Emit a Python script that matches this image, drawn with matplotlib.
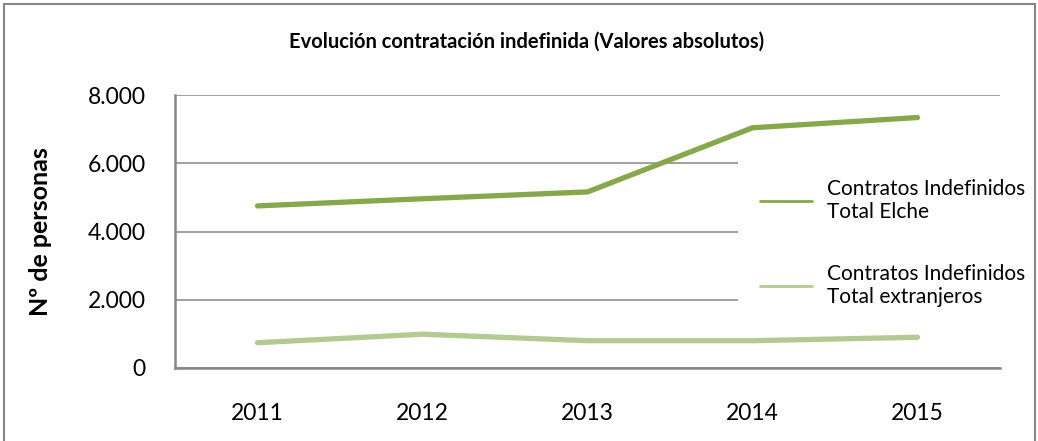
import matplotlib
matplotlib.use("Agg")
import matplotlib.pyplot as plt
from matplotlib.patches import Rectangle
from matplotlib.ticker import FuncFormatter, FixedLocator

plt.rcParams['font.family'] = ['Lato', 'DejaVu Sans']

## chart data
years = ['2011', '2012', '2013', '2014', '2015']
total_elche = [4750, 4960, 5160, 7040, 7340]
total_extranjeros = [740, 990, 800, 800, 900]
series_labels = ['Contratos Indefinidos\nTotal Elche', 'Contratos Indefinidos\nTotal extranjeros']
y_ticks = [0, 2000, 4000, 6000, 8000]

dark_green = '#86a74a'
light_green = '#b3ca92'
grey = '#868686'

fig = plt.figure(figsize=(10.38, 4.41), dpi=100)
ax = fig.add_axes([175 / 1038, 1 - 368 / 441, 825 / 1038, 273 / 441])

x = range(len(years))
ax.plot(x, total_elche, color=dark_green, linewidth=3.8, solid_capstyle='round',
        solid_joinstyle='round', label=series_labels[0], zorder=3)
ax.plot(x, total_extranjeros, color=light_green, linewidth=3.8, solid_capstyle='round',
        solid_joinstyle='round', label=series_labels[1], zorder=3)

ax.set_xlim(-0.5, len(years) - 0.5)
ax.set_ylim(0, 8000)
ax.set_xticks(list(x))
ax.set_xticklabels(years)
ax.yaxis.set_major_locator(FixedLocator(y_ticks))
ax.yaxis.set_major_formatter(FuncFormatter(lambda v, _: f"{int(v):,}".replace(',', '.')))
ax.tick_params(axis='both', length=0, labelsize=16.5, colors='black')
ax.tick_params(axis='y', pad=21)
ax.tick_params(axis='x', pad=25)

ax.grid(axis='y', color=grey, linewidth=1.1)
ax.set_axisbelow(True)
for side in ['top', 'right']:
    ax.spines[side].set_visible(False)
for side in ['left', 'bottom']:
    ax.spines[side].set_color(grey)
    ax.spines[side].set_linewidth(1.8)

ax.set_ylabel('Nº de personas', fontsize=18, fontweight='bold')
ax.yaxis.set_label_coords(-0.149, 0.5)

# white legend area that hides the gridlines, like the original
to_ax = lambda px, py: ((px - 175) / 825, (368 - py) / 273)
x0, y0 = to_ax(738, 330)
x1, y1 = to_ax(1036, 142)
ax.add_patch(Rectangle((x0, y0), x1 - x0, y1 - y0, transform=ax.transAxes,
                       facecolor='white', edgecolor='none', zorder=2, clip_on=False))

leg = ax.legend(loc='upper left', bbox_to_anchor=to_ax(760, 179), borderaxespad=0,
                borderpad=0, fontsize=15, frameon=False,
                handlelength=2.5, handletextpad=0.7, labelspacing=2.0)
for line in leg.get_lines():
    line.set_linewidth(2)

fig.text(527 / 1038, 1 - 42 / 441, 'Evolución contratación indefinida (Valores absolutos)',
         ha='center', va='center', fontsize=14.5, fontweight='bold')

# outer chart border
fig.patches.append(Rectangle((4 / 1038, -0.1), 1031 / 1038, 1.1 - 4 / 441,
                             transform=fig.transFigure, fill=False,
                             edgecolor=grey, linewidth=1.5))

fig.savefig('out.png', dpi=100)
